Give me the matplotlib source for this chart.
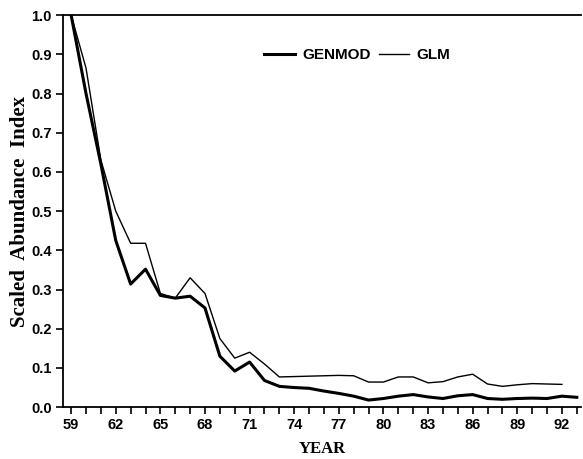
import numpy as np
import matplotlib
matplotlib.use("Agg")
import matplotlib.pyplot as plt

# --- data ---
years_genmod = np.arange(59, 94)
genmod = [1.0, 0.80, 0.62, 0.425, 0.314, 0.352, 0.285, 0.278, 0.283, 0.253,
          0.13, 0.092, 0.115, 0.068, 0.053, 0.05, 0.048, 0.041, 0.035, 0.028,
          0.018, 0.022, 0.028, 0.032, 0.026, 0.022, 0.029, 0.032, 0.022, 0.02,
          0.022, 0.023, 0.022, 0.028, 0.025]

years_glm = np.arange(59, 93)
glm = [1.0, 0.865, 0.63, 0.50, 0.418, 0.418, 0.29, 0.278, 0.33, 0.29,
       0.175, 0.125, 0.14, 0.11, 0.077, 0.078, 0.079, 0.08, 0.081, 0.08,
       0.064, 0.064, 0.077, 0.077, 0.062, 0.065, 0.077, 0.084, 0.059, 0.053,
       0.057, 0.06, 0.059, 0.058]

xtick_years = np.arange(59, 93, 3)
ytick_vals = np.round(np.arange(0, 1.01, 0.1), 1)

sans = "Liberation Sans"
tick_font = dict(family=sans, weight="bold", size=10.5)

fig = plt.figure(figsize=(5.83, 4.59), dpi=100)
ax = fig.add_axes([0.108, 0.113, 0.889, 0.854])

ax.plot(years_genmod, genmod, color="black", lw=2.2, label="GENMOD")
ax.plot(years_glm, glm, color="black", lw=1.0, label="GLM")

ax.set_xlim(58.45, 93.3)
ax.set_ylim(0, 1.0)
ax.set_xticks(np.arange(59, 94), minor=True)
ax.set_xticks(xtick_years)
ax.set_xticklabels([str(y) for y in xtick_years], fontdict=tick_font)
ax.set_yticks(ytick_vals)
ax.set_yticklabels([f"{v:.1f}" for v in ytick_vals], fontdict=tick_font)
ax.tick_params(axis="both", which="both", direction="out", length=5, width=1.2, pad=3)
ax.tick_params(axis="x", which="minor", length=5)

ax.spines["right"].set_visible(False)
for s in ["left", "bottom", "top"]:
    ax.spines[s].set_linewidth(1.3)

ax.set_ylabel("Scaled  Abundance  Index", family="Liberation Serif",
              weight="bold", size=15)
ax.yaxis.set_label_coords(-0.064, 0.5)
ax.set_xlabel("YEAR", family="Liberation Serif", weight="bold", size=12, labelpad=6)

leg = ax.legend(loc="center", bbox_to_anchor=(0.568, 0.898), ncol=2,
                frameon=False, handlelength=2.0, columnspacing=0.5,
                handletextpad=0.5, borderpad=0,
                prop=dict(family=sans, weight="bold", size=11))

fig.savefig("out.png", dpi=100)
